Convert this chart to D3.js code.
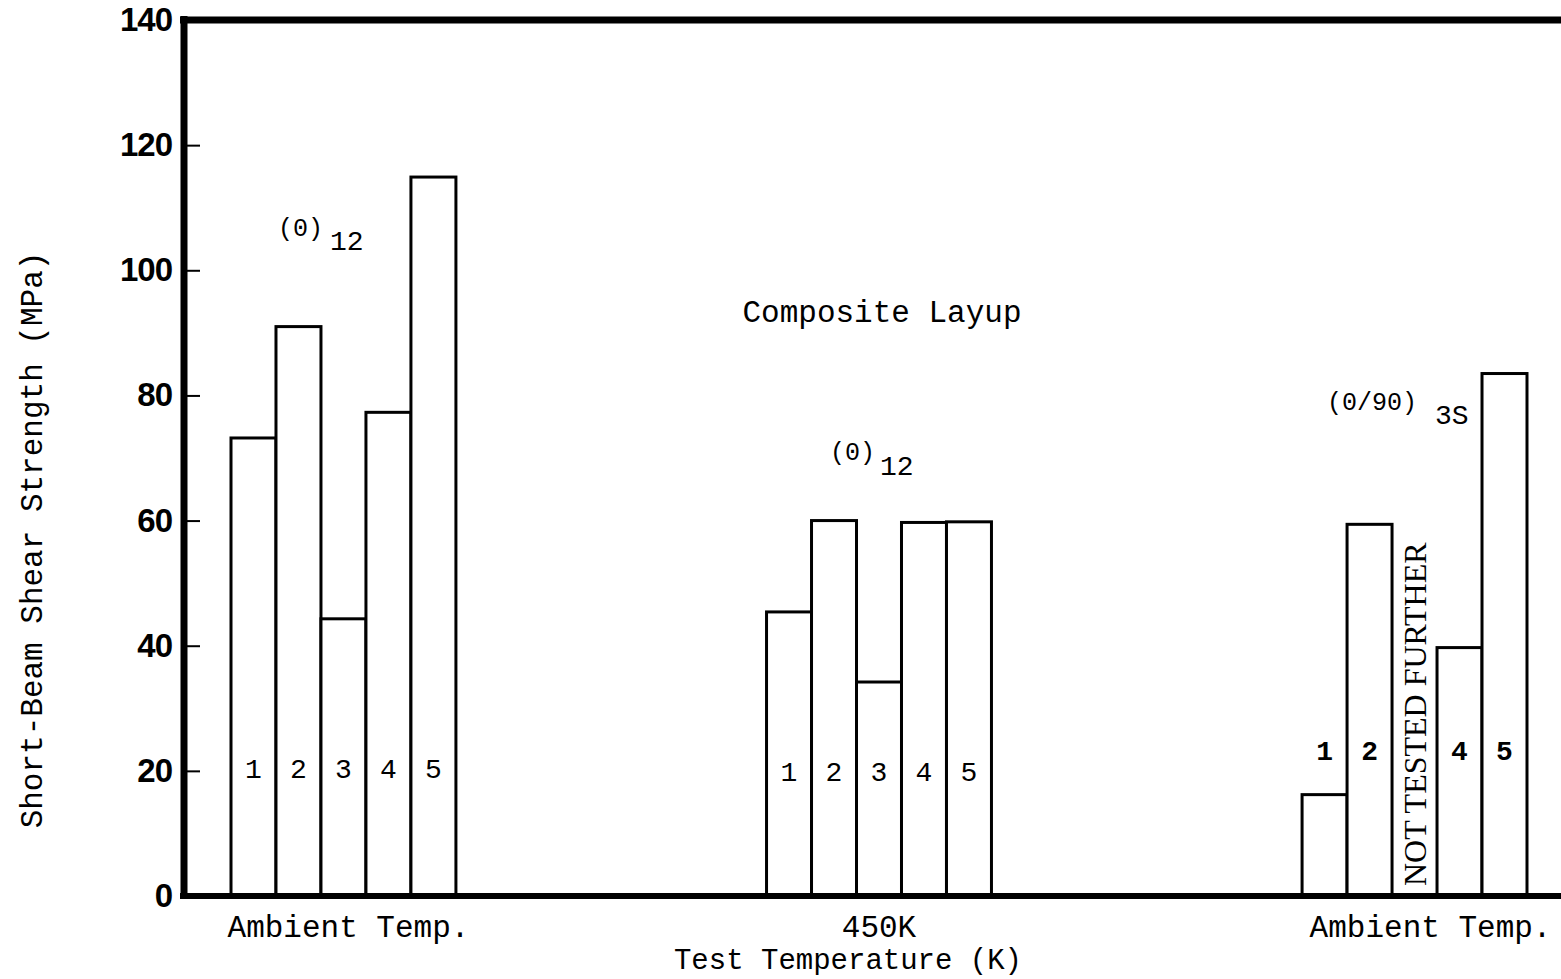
<!DOCTYPE html>
<html><head><meta charset="utf-8">
<script src="https://cdn.jsdelivr.net/npm/d3@7"></script>
<style>body{margin:0;background:#fff}svg{display:block}</style>
</head><body>
<svg id="c" width="1561" height="979"></svg>
<script>
const groups = ["Ambient Temp.", "450K", "Ambient Temp. "];
const specimens = ["1", "2", "3", "4", "5"];
const group1Values = [73.2, 91.0, 44.3, 77.3, 114.9];
const group2Values = [45.4, 60.0, 34.2, 59.7, 59.8];
const group3Values = [16.2, 59.4, null, 39.7, 83.5];
const yTicks = [0, 20, 40, 60, 80, 100, 120, 140];
const layupLabels = [["(0)", "12"], ["(0)", "12"], ["(0/90)", "3S"]];
const numberLevels = [20, 19.6, 23];

const seriesByGroup = [group1Values, group2Values, group3Values];
const svg = d3.select("#c");
const mono = "'Liberation Mono','DejaVu Sans Mono',monospace";
const y = d3.scaleLinear().domain([0, 140]).range([896, 20]);
const x = d3.scaleBand().domain(groups).range([231, 1527]).paddingInner(0.58).paddingOuter(0);
const xs = d3.scaleBand().domain(specimens).range([0, x.bandwidth()]).padding(0);

// bars
groups.forEach((g, gi) => {
  const gEl = svg.append("g").attr("transform", `translate(${x(g)},0)`);
  const vals = seriesByGroup[gi];
  specimens.forEach((s, si) => {
    const v = vals[si];
    if (v != null) {
      gEl.append("rect").attr("x", xs(s)).attr("y", y(v)).attr("width", xs.bandwidth())
        .attr("height", y(0) - y(v)).attr("fill", "#fff").attr("stroke", "#000").attr("stroke-width", 3);
      gEl.append("text").attr("x", xs(s) + xs.bandwidth() / 2).attr("y", y(numberLevels[gi]))
        .attr("text-anchor", "middle").attr("dominant-baseline", "central")
        .style("font-family", mono).style("font-size", "28px").style("font-weight", gi === 2 ? "bold" : "normal").text(s);
    } else {
      gEl.append("text")
        .attr("transform", `translate(${xs(s) + xs.bandwidth() / 2},${y(0) - 10}) rotate(-90)`)
        .attr("text-anchor", "start").attr("dominant-baseline", "central")
        .style("font-family", "'Liberation Serif','DejaVu Serif',serif").style("font-size", "32px").text("NOT TESTED FURTHER");
    }
  });
});

// frame and axes
svg.append("line").attr("x1", 180).attr("x2", 1561).attr("y1", y(140)).attr("y2", y(140)).attr("stroke", "#000").attr("stroke-width", 7);
svg.append("line").attr("x1", 180).attr("x2", 1561).attr("y1", y(0)).attr("y2", y(0)).attr("stroke", "#000").attr("stroke-width", 6);
const yAxis = d3.axisLeft(y).tickValues(yTicks).tickSize(-16).tickPadding(10).tickSizeOuter(0);
const ag = svg.append("g").attr("transform", "translate(184,0)").call(yAxis);
ag.select(".domain").attr("stroke-width", 7).attr("d", `M0,${y(140) - 4}V${y(0) + 3}`);
ag.selectAll(".tick line").attr("stroke-width", 2).attr("x1", 3).attr("x2", 16);
ag.selectAll(".tick text").attr("x", -12)
  .style("font-family", "'Liberation Sans',Arial,sans-serif").style("font-weight", "bold").style("font-size", "33px").style("letter-spacing", "-1px");

// x labels
const xa = d3.axisBottom(x).tickSize(0).tickPadding(0);
const xg = svg.append("g").attr("transform", `translate(0,${y(0)})`).call(xa);
xg.select(".domain").remove();
xg.selectAll(".tick text").attr("y", 41).attr("dy", 0)
  .style("font-family", mono).style("font-size", "31px").attr("fill", "#000");
xg.selectAll(".tick").filter((d, i) => i === 0).select("text").attr("dx", 5);
xg.selectAll(".tick").filter((d, i) => i === 2).select("text").attr("dx", 16);

svg.append("text").attr("x", 848).attr("y", 969).attr("text-anchor", "middle")
  .style("font-family", mono).style("font-size", "29px").text("Test Temperature (K)");
svg.append("text").attr("transform", "translate(42,540) rotate(-90)").attr("text-anchor", "middle")
  .style("font-family", mono).style("font-size", "31px").text("Short-Beam Shear Strength (MPa)");
svg.append("text").attr("x", 882).attr("y", 322).attr("text-anchor", "middle")
  .style("font-family", mono).style("font-size", "31px").text("Composite Layup");

// layup labels
const layupPos = [[278, 236, 330, 250], [830, 460, 880, 475], [1327, 410, 1435, 424]];
layupLabels.forEach((l, i) => {
  const p = layupPos[i];
  svg.append("text").attr("x", p[0]).attr("y", p[1]).style("font-family", mono).style("font-size", "25px").text(l[0]);
  svg.append("text").attr("x", p[2]).attr("y", p[3]).style("font-family", mono).style("font-size", "28px").text(l[1]);
});
</script>
</body></html>
